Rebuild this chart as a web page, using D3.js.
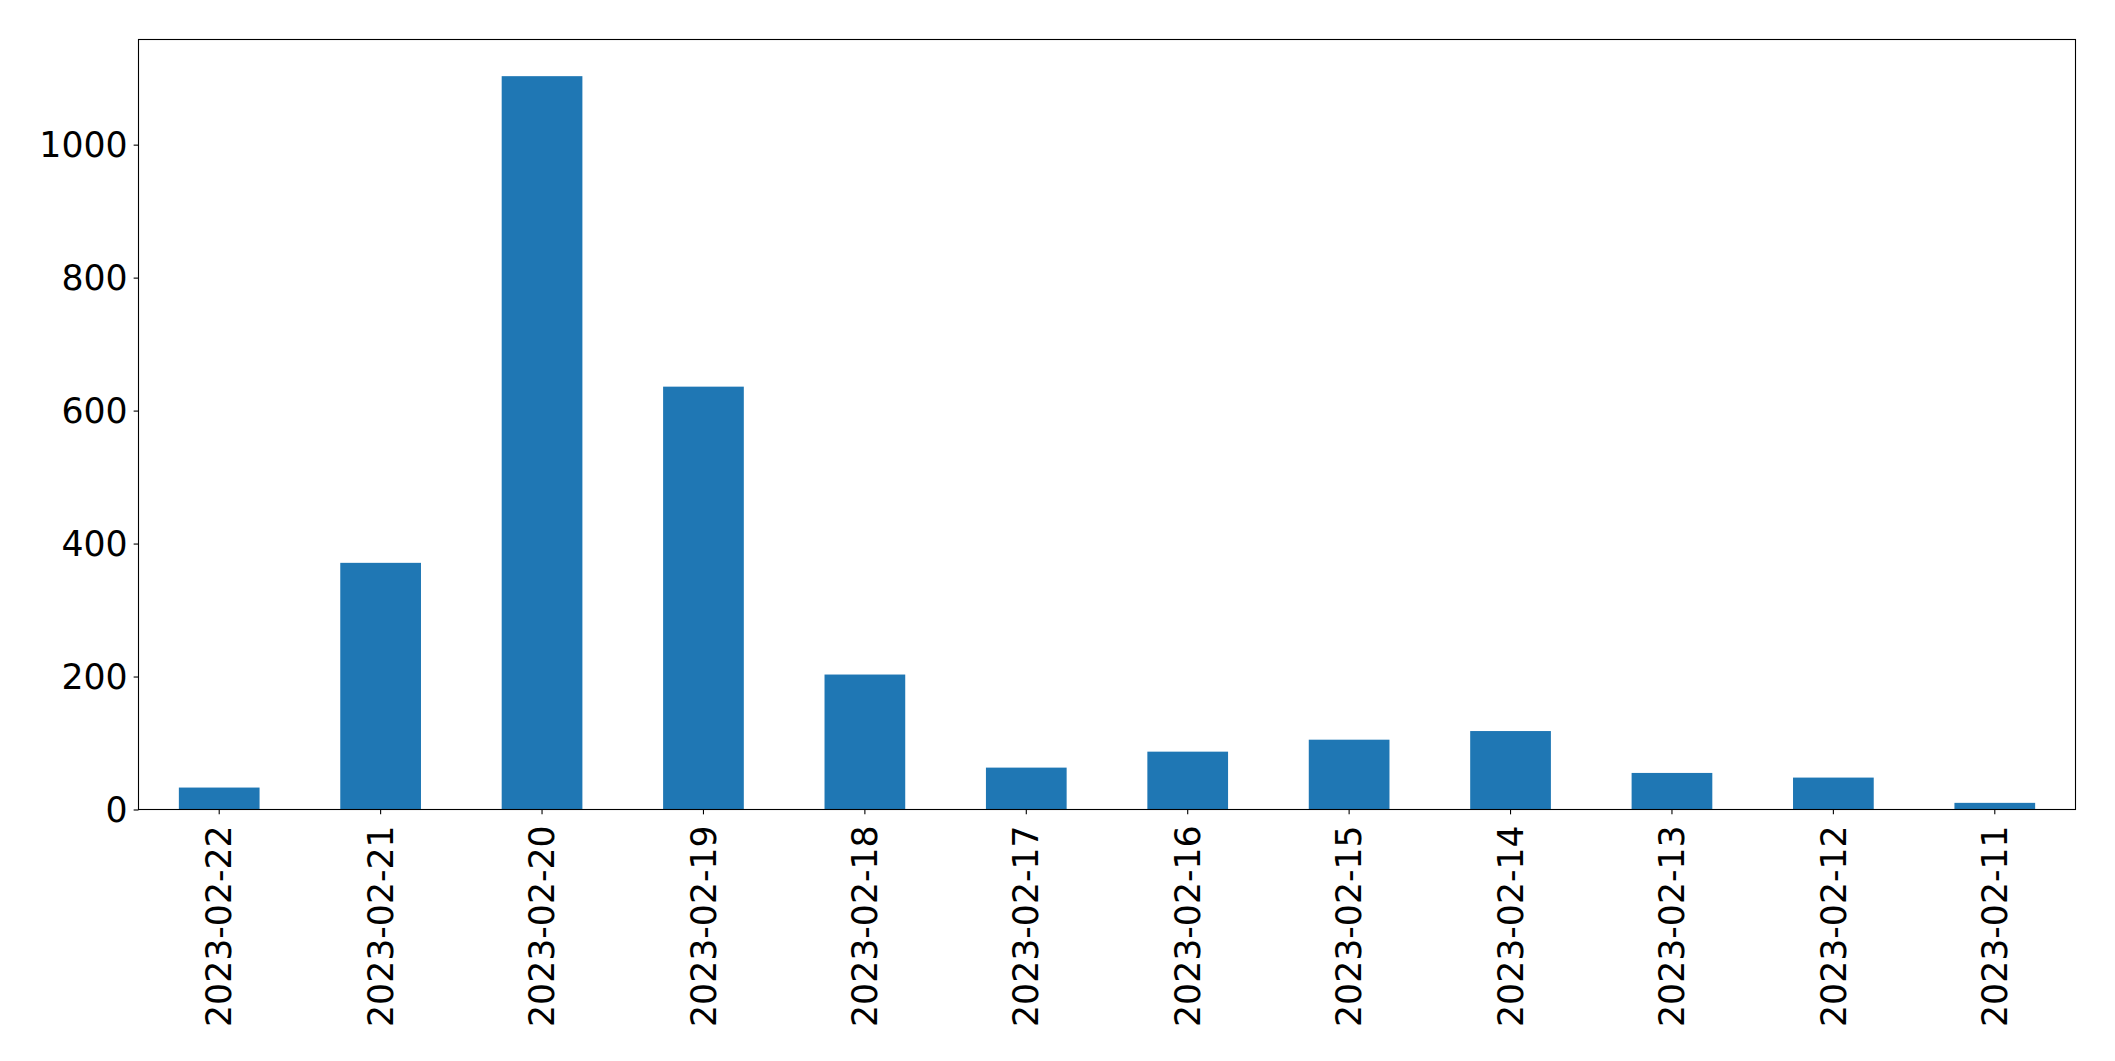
<!DOCTYPE html>
<html>
<head>
<meta charset="utf-8">
<script src="https://cdn.jsdelivr.net/npm/d3@7"></script>
<style>
  html, body { margin: 0; padding: 0; background: #ffffff; }
  svg { display: block; }
  text { font-family: "DejaVu Sans", sans-serif; fill: #000; }
</style>
</head>
<body>
<svg id="chart" width="2115" height="1061"></svg>
<script>
const categories = ["2023-02-22","2023-02-21","2023-02-20","2023-02-19","2023-02-18","2023-02-17","2023-02-16","2023-02-15","2023-02-14","2023-02-13","2023-02-12","2023-02-11"];
const values = [33, 371, 1103, 636, 203, 63, 87, 105, 118, 55, 48, 10];
const yTicks = [0, 200, 400, 600, 800, 1000];

const svg = d3.select("#chart");
const margin = {left: 138.5, top: 39.5, right: 2115 - 2075.5, bottom: 1061 - 809.5};
const W = 2115 - margin.left - margin.right;
const H = 1061 - margin.top - margin.bottom;
const g = svg.append("g").attr("transform", `translate(${margin.left},${margin.top})`);

const x = d3.scaleBand().domain(categories).range([0, W]).paddingInner(0.5).paddingOuter(0.25);
const y = d3.scaleLinear().domain([0, d3.max(values) * 1.05]).range([H, 0]);

g.selectAll("rect.bar").data(categories).enter().append("rect")
  .attr("class", "bar")
  .attr("x", d => x(d))
  .attr("width", x.bandwidth())
  .attr("y", (d, i) => y(values[i]))
  .attr("height", (d, i) => H - y(values[i]))
  .attr("fill", "#1f77b4");

const fs = 34.7;
const tickLen = 4.86;

const xAxis = g.append("g").attr("transform", `translate(0,${H})`)
  .call(d3.axisBottom(x).tickSize(tickLen).tickPadding(0));
xAxis.select(".domain").remove();
xAxis.selectAll(".tick line").attr("stroke", "#000").attr("stroke-width", 1.1);
xAxis.selectAll(".tick text")
  .style("font-size", fs + "px")
  .attr("transform", "rotate(-90)")
  .attr("text-anchor", "end")
  .attr("x", -(tickLen + 11))
  .attr("y", 0)
  .attr("dy", "0.35em");

const yAxis = g.append("g")
  .call(d3.axisLeft(y).tickValues(yTicks).tickSize(tickLen).tickPadding(6).tickFormat(d3.format("d")));
yAxis.select(".domain").remove();
yAxis.selectAll(".tick line").attr("stroke", "#000").attr("stroke-width", 1.1);
yAxis.selectAll(".tick text").style("font-size", fs + "px").attr("dy", "0.35em");

g.append("rect")
  .attr("x", 0).attr("y", 0).attr("width", W).attr("height", H)
  .attr("fill", "none").attr("stroke", "#000").attr("stroke-width", 1.1);
</script>
</body>
</html>
